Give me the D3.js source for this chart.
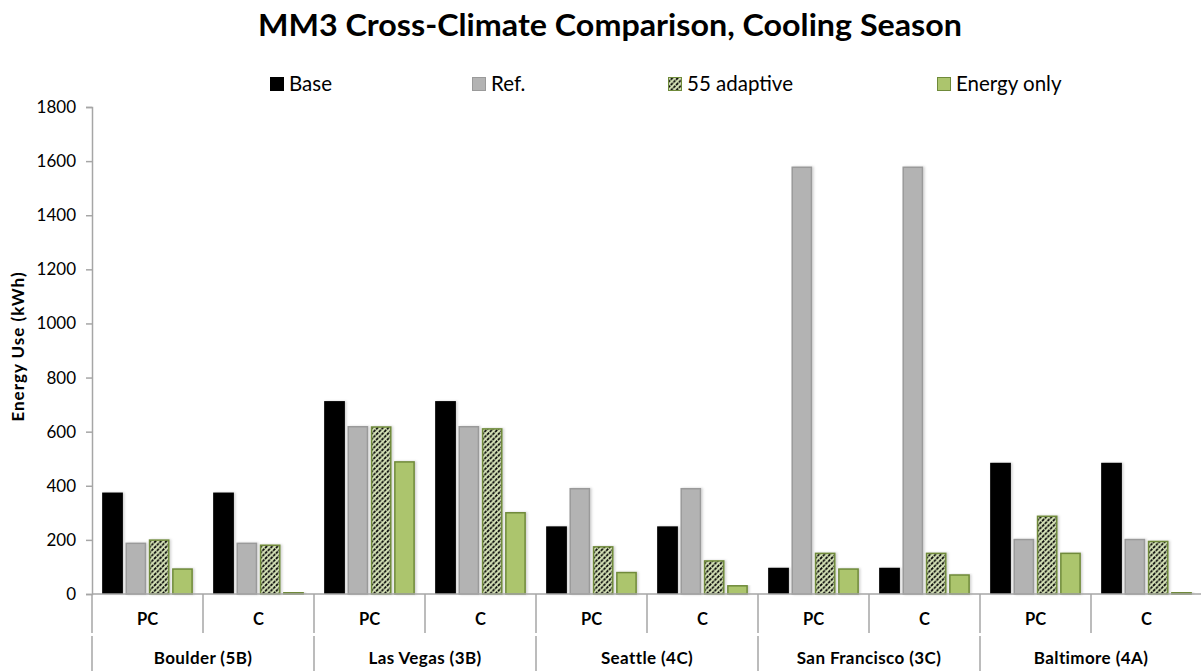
<!DOCTYPE html>
<html>
<head>
<meta charset="utf-8">
<script src="https://cdn.jsdelivr.net/npm/d3@7/dist/d3.min.js"></script>
<style>
  html, body { margin: 0; padding: 0; background: #fff; }
  svg { display: block; font-family: Lato, "Open Sans", sans-serif; }
</style>
</head>
<body>
<svg id="chart" width="1201" height="671"></svg>
<script>
// Cities (outer categories) and the two control modes within each city
const cities = ["Boulder (5B)", "Las Vegas (3B)", "Seattle (4C)", "San Francisco (3C)", "Baltimore (4A)"];
const modes = ["PC", "C"];
const seriesNames = ["Base", "Ref.", "55 adaptive", "Energy only"];

// Energy use (kWh), one value per city/mode slot: Boulder PC, Boulder C, Las Vegas PC, ...
const baseValues       = [375, 375, 713, 713, 250, 250, 97, 97, 485, 485];
const refValues        = [190, 190, 621, 621, 392, 392, 1580, 1580, 204, 204];
const adaptiveValues   = [202, 183, 620, 613, 177, 125, 153, 153, 290, 197];
const energyOnlyValues = [95, 8, 491, 303, 82, 33, 95, 73, 153, 8];

const yTickValues = [0, 200, 400, 600, 800, 1000, 1200, 1400, 1600, 1800];

const svg = d3.select("#chart");

const plot = { left: 92, right: 1202, top: 107, bottom: 594 };

// one slot per city/mode pair
const slots = [];
cities.forEach(c => modes.forEach(m => slots.push({ city: c, mode: m, key: c + "|" + m })));

const x0 = d3.scaleBand().domain(slots.map(s => s.key)).range([plot.left, plot.right]).padding(0);
const x1 = d3.scaleBand().domain(seriesNames).range([0, x0.bandwidth()])
  .paddingInner(0.11).paddingOuter(0.435);
const y = d3.scaleLinear().domain([0, 1800]).range([plot.bottom, plot.top]);

// hatch pattern for the "55 adaptive" series: dashed stripes rising to the right.
// Lines run past the tile so their dash phase lines up from tile to tile.
const defs = svg.append("defs");
const s = 5.4;
const diag = s * Math.SQRT2;
const pat = defs.append("pattern")
  .attr("id", "hatch").attr("patternUnits", "userSpaceOnUse")
  .attr("width", s).attr("height", s);
pat.append("rect").attr("width", s).attr("height", s).attr("fill", "#d6e3b8");
pat.append("path")
  .attr("d", `M${-s},${2 * s} L${2 * s},${-s} M${-s},${s} L${s},${-s} M0,${2 * s} L${2 * s},0`)
  .attr("stroke", "#000").attr("stroke-width", 1.6)
  .attr("stroke-dasharray", `${(diag / 2) * 0.75},${(diag / 2) * 0.25}`);

const styles = {
  "Base":        { fill: "#000000", stroke: "#000000" },
  "Ref.":        { fill: "#b3b3b3", stroke: "#9a9a9a" },
  "55 adaptive": { fill: "url(#hatch)", stroke: "#6f8a3a" },
  "Energy only": { fill: "#acc56d", stroke: "#6f8a3a" }
};
const seriesValues = {
  "Base": baseValues, "Ref.": refValues, "55 adaptive": adaptiveValues, "Energy only": energyOnlyValues
};

// Title
svg.append("text")
  .attr("x", 610).attr("y", 36)
  .attr("text-anchor", "middle")
  .attr("font-size", 31).attr("font-weight", "bold").attr("fill", "#000")
  .attr("textLength", 704).attr("lengthAdjust", "spacingAndGlyphs")
  .text("MM3 Cross-Climate Comparison, Cooling Season");

// Legend
const legendX = [270, 472, 668, 937];
const legend = svg.append("g");
seriesNames.forEach((name, i) => {
  const g = legend.append("g").attr("transform", `translate(${legendX[i]},77)`);
  g.append("rect").attr("x", 0.5).attr("y", 0.5).attr("width", 13).attr("height", 13)
    .attr("fill", styles[name].fill).attr("stroke", styles[name].stroke).attr("stroke-width", 1);
  g.append("text").attr("x", 19).attr("y", 14)
    .attr("font-size", 20.5).attr("fill", "#000").text(name);
});

// Y axis
const yAxis = d3.axisLeft(y).tickValues(yTickValues).tickSize(6).tickPadding(10).tickFormat(d3.format("d"));
const yg = svg.append("g").attr("transform", `translate(${plot.left},0)`).call(yAxis);
yg.select(".domain").attr("stroke", "#a6a6a6").attr("stroke-width", 1.5);
yg.selectAll(".tick line").attr("stroke", "#a6a6a6").attr("stroke-width", 1.5);
yg.selectAll(".tick text").attr("font-size", 17).attr("fill", "#000")
  .attr("font-family", "Lato, sans-serif");

svg.append("text")
  .attr("transform", `translate(24,${(plot.top + plot.bottom) / 2 - 4}) rotate(-90)`)
  .attr("text-anchor", "middle")
  .attr("font-size", 17).attr("font-weight", "bold").attr("letter-spacing", 1)
  .text("Energy Use (kWh)");

// Bars
const barShadow = defs.append("filter").attr("id", "shadow").attr("x", "-20%").attr("y", "-10%")
  .attr("width", "150%").attr("height", "130%");
barShadow.append("feDropShadow").attr("dx", 1.5).attr("dy", 0).attr("stdDeviation", 1.2)
  .attr("flood-color", "#000").attr("flood-opacity", 0.18);

const barsG = svg.append("g");
slots.forEach((slot, i) => {
  const g = barsG.append("g").attr("transform", `translate(${x0(slot.key)},0)`);
  seriesNames.forEach(name => {
    const v = seriesValues[name][i];
    const st = styles[name];
    const sw = name === "Base" ? 0 : 1.5;
    g.append("rect")
      .attr("x", x1(name) + sw / 2)
      .attr("y", y(v) + sw / 2)
      .attr("width", x1.bandwidth() - sw)
      .attr("height", Math.max(0, y(0) - y(v) - sw / 2))
      .attr("fill", st.fill)
      .attr("stroke", sw ? st.stroke : "none")
      .attr("stroke-width", sw)
      .attr("filter", "url(#shadow)");
  });
});

// X axis baseline
svg.append("line")
  .attr("x1", plot.left).attr("x2", 1201)
  .attr("y1", plot.bottom).attr("y2", plot.bottom)
  .attr("stroke", "#a6a6a6").attr("stroke-width", 1.5);

// Separators: between modes (short) and between cities (full height)
const axisG = svg.append("g").attr("stroke", "#a6a6a6").attr("stroke-width", 1.5);
slots.forEach((slot, i) => {
  const xl = x0(slot.key);
  axisG.append("line").attr("x1", xl).attr("x2", xl).attr("y1", plot.bottom).attr("y2", 633);
  if (i % 2 === 0) {
    axisG.append("line").attr("x1", xl).attr("x2", xl).attr("y1", 636).attr("y2", 671);
  }
});

// Mode labels
svg.append("g").selectAll("text").data(slots).join("text")
  .attr("x", d => x0(d.key) + x0.bandwidth() / 2)
  .attr("y", 625)
  .attr("text-anchor", "middle")
  .attr("font-size", 16.5).attr("font-weight", "bold")
  .text(d => d.mode);

// City labels
svg.append("g").selectAll("text").data(cities).join("text")
  .attr("x", d => x0(d + "|PC") + x0.bandwidth())
  .attr("y", 664)
  .attr("text-anchor", "middle")
  .attr("font-size", 17).attr("font-weight", "bold").attr("letter-spacing", 0.4)
  .text(d => d);
</script>
</body>
</html>
